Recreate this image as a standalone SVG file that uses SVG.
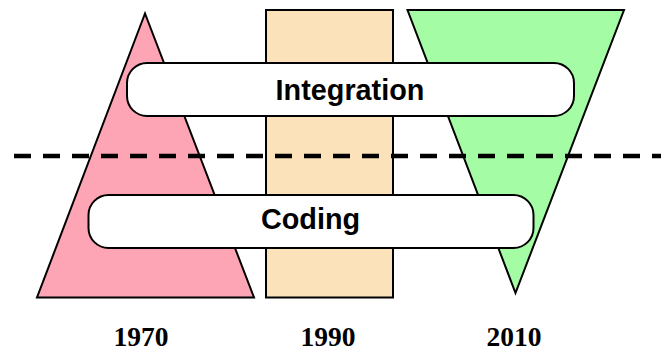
<svg xmlns="http://www.w3.org/2000/svg" width="661" height="351" viewBox="0 0 661 351">
<style>
.shape{stroke:#000;stroke-width:2;stroke-linejoin:miter}
.pill{fill:#fff;stroke:#000;stroke-width:2}
.lbl{font-family:"Liberation Sans",Arial,sans-serif;font-weight:bold;font-size:28.8px;fill:#000;text-anchor:middle}
.year{font-family:"Liberation Serif","Times New Roman",serif;font-weight:bold;font-size:27.5px;fill:#000;text-anchor:middle}
.dash{stroke:#000;stroke-width:4.5;stroke-dasharray:17 12;fill:none}
</style>
<rect width="661" height="351" fill="#fff"/>
<g id="era1970">
<polygon class="shape" points="145,13.5 37,297.5 254,297.5" fill="#FDA5B4"/>
</g>
<g id="era1990">
<rect class="shape" x="266" y="10" width="127" height="287.5" fill="#FBE2BB"/>
</g>
<g id="era2010">
<polygon class="shape" points="407.5,10 624,10 515.5,293" fill="#A4FCA4"/>
</g>
<g id="connectors">
<line class="dash" x1="14" y1="156" x2="661" y2="156"/>
</g>
<g id="integration">
<rect class="pill" x="127" y="63" width="447" height="53" rx="20" ry="20"/>
<text class="lbl" x="350" y="100">Integration</text>
</g>
<g id="coding">
<rect class="pill" x="88.5" y="195" width="445" height="53" rx="20" ry="20"/>
<text class="lbl" x="310.5" y="228.5">Coding</text>
</g>
<g id="years">
<text class="year" x="141" y="346">1970</text>
<text class="year" x="328" y="346">1990</text>
<text class="year" x="514" y="346">2010</text>
</g>
</svg>
